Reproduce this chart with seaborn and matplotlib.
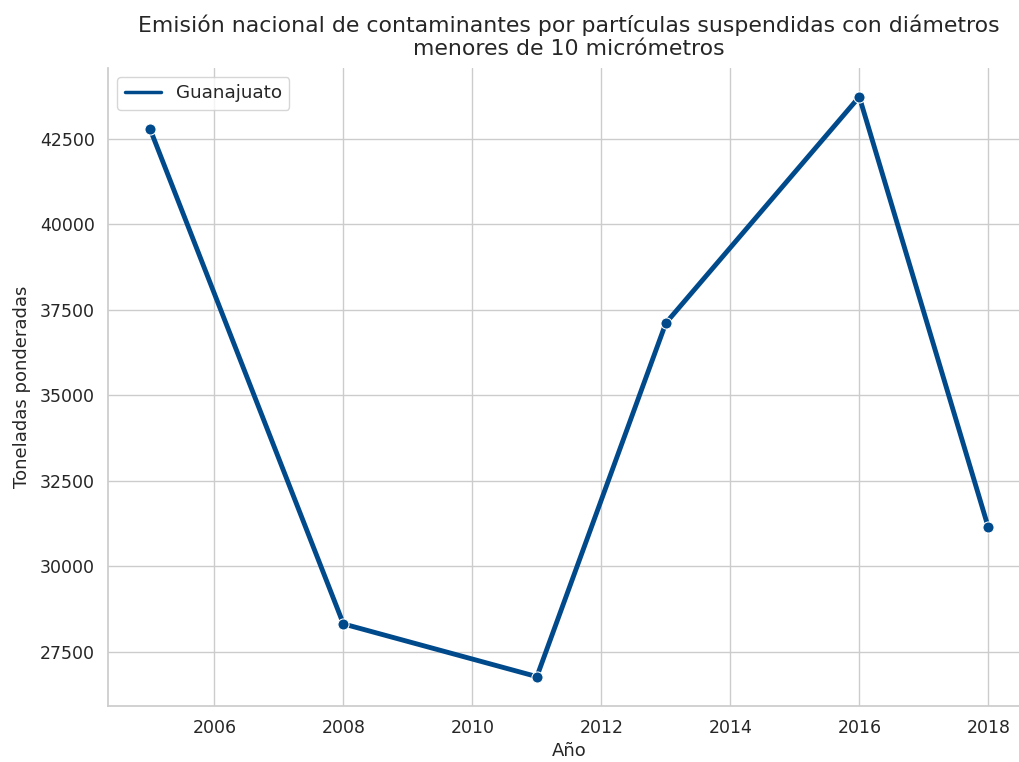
import pandas as pd
import matplotlib.pyplot as plt
import seaborn as sns

years = [2005, 2008, 2011, 2013, 2016, 2018]
toneladas = [42790, 28320, 26780, 37110, 43720, 31140]
entidad = "Guanajuato"

df = pd.DataFrame({"Año": years, "Toneladas ponderadas": toneladas, "Entidad": entidad})

sns.set_theme(style="whitegrid")
fig, ax = plt.subplots(figsize=(10.19, 7.62), dpi=100)
sns.lineplot(data=df, x="Año", y="Toneladas ponderadas", hue="Entidad",
             palette=["#004a8c"], marker="o", markersize=8, linewidth=3.5, ax=ax)
ax.set_title("Emisión nacional de contaminantes por partículas suspendidas con diámetros\n"
             "menores de 10 micrómetros", fontsize=15.8, pad=9)
ax.set_xlabel("Año", fontsize=13)
ax.set_ylabel("Toneladas ponderadas", fontsize=13, labelpad=6)
ax.tick_params(labelsize=12.5)

# legend shows only the line, thinner
handles, labels = ax.get_legend_handles_labels()
for h in handles:
    h.set_marker("")
    h.set_linewidth(2.5)
ax.legend(handles, labels, loc="upper left", fontsize=13.2)

sns.despine()
# the original picture is cut on the right, so the axes run past the edge
fig.subplots_adjust(left=0.106, right=1.011, top=0.911, bottom=0.074)
fig.savefig("out.png", dpi=100)
